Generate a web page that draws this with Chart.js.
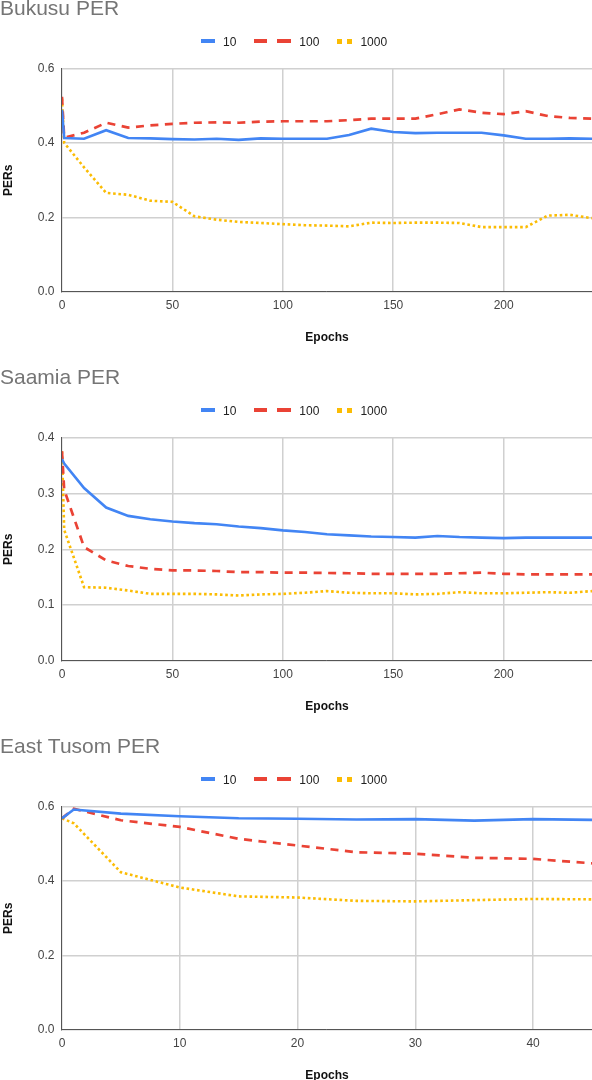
<!DOCTYPE html>
<html>
<head>
<meta charset="utf-8">
<script src="https://cdn.jsdelivr.net/npm/chart.js@4.4.1/dist/chart.umd.min.js"></script>
<style>
  body { margin: 0; background: #fff; font-family: "Liberation Sans", Arial, sans-serif; }
  .block { position: relative; width: 592px; height: 369px; }
  .legend { position: absolute; left: 201px; top: 35px; display: flex; align-items: center;
            font-size: 12px; line-height: 14px; color: #222; }
  .legend .mark { height: 4px; margin-right: 8px; position: relative; top: -1px; }
  .legend .item { display: flex; align-items: center; margin-right: 18px; }
</style>
</head>
<body>
<div class="block"><canvas id="bukusu" width="592" height="369"></canvas><div class="legend" id="lg-bukusu"></div></div>
<div class="block"><canvas id="saamia" width="592" height="369"></canvas><div class="legend" id="lg-saamia"></div></div>
<div class="block"><canvas id="tusom" width="592" height="369"></canvas><div class="legend" id="lg-tusom"></div></div>
<script>
'use strict';

// series names (training set sizes)
const seriesNames = ['10', '100', '1000'];

// Bukusu
const bukusuEpochs = [0, 1, 10, 20, 30, 40, 50, 60, 70, 80, 90, 100, 110, 120, 130, 140, 150, 160, 170, 180, 190, 200, 210, 220, 230, 240];
const bukusu10   = [0.49, 0.414, 0.412, 0.435, 0.414, 0.413, 0.411, 0.410, 0.412, 0.409, 0.413, 0.412, 0.412, 0.412, 0.422, 0.439, 0.430, 0.427, 0.428, 0.428, 0.428, 0.421, 0.412, 0.412, 0.413, 0.412];
const bukusu100  = [0.525, 0.415, 0.428, 0.455, 0.442, 0.448, 0.452, 0.455, 0.456, 0.455, 0.458, 0.459, 0.459, 0.459, 0.462, 0.466, 0.466, 0.466, 0.478, 0.491, 0.482, 0.478, 0.486, 0.473, 0.468, 0.466];
const bukusu1000 = [0.52, 0.401, 0.335, 0.266, 0.261, 0.245, 0.242, 0.203, 0.194, 0.188, 0.185, 0.182, 0.179, 0.178, 0.176, 0.186, 0.185, 0.186, 0.186, 0.185, 0.174, 0.174, 0.174, 0.205, 0.207, 0.198];

// Saamia
const saamiaEpochs = [0, 1, 10, 20, 30, 40, 50, 60, 70, 80, 90, 100, 110, 120, 130, 140, 150, 160, 170, 180, 190, 200, 210, 220, 230, 240];
const saamia10   = [0.362, 0.354, 0.31, 0.275, 0.26, 0.254, 0.25, 0.247, 0.245, 0.241, 0.238, 0.234, 0.231, 0.227, 0.225, 0.223, 0.222, 0.221, 0.224, 0.222, 0.221, 0.22, 0.221, 0.221, 0.221, 0.221];
const saamia100  = [0.376, 0.307, 0.204, 0.18, 0.17, 0.165, 0.162, 0.162, 0.161, 0.159, 0.159, 0.158, 0.158, 0.1575, 0.157, 0.156, 0.156, 0.156, 0.156, 0.157, 0.158, 0.156, 0.155, 0.155, 0.155, 0.155];
const saamia1000 = [0.376, 0.235, 0.132, 0.131, 0.126, 0.12, 0.12, 0.12, 0.119, 0.117, 0.119, 0.12, 0.122, 0.125, 0.122, 0.121, 0.121, 0.119, 0.12, 0.123, 0.121, 0.121, 0.122, 0.123, 0.122, 0.125];

// East Tusom
const tusomEpochs = [0, 1, 5, 10, 15, 20, 25, 30, 35, 40, 45];
const tusom10   = [0.569, 0.593, 0.582, 0.575, 0.5695, 0.568, 0.566, 0.567, 0.563, 0.567, 0.565];
const tusom100  = [0.569, 0.595, 0.564, 0.546, 0.514, 0.496, 0.478, 0.474, 0.463, 0.46, 0.448];
const tusom1000 = [0.569, 0.556, 0.424, 0.383, 0.359, 0.356, 0.347, 0.3455, 0.349, 0.352, 0.351];

const FONT = '"Liberation Sans", Arial, sans-serif';
const lineStyles = [
    { color: '#4285f4', width: 2.6, dash: [], legend: 'linear-gradient(to right, #4285f4 0 14px)', legendWidth: 14 },
    { color: '#ea4335', width: 2.7, dash: [8, 6.5], legend: 'linear-gradient(to right, #ea4335 0 13px, transparent 13px 23px, #ea4335 23px 37px)', legendWidth: 37 },
    { color: '#fbbc04', width: 2.6, dash: [2.6, 2.7], legend: 'linear-gradient(to right, #fbbc04 0 5px, transparent 5px 10px, #fbbc04 10px 15px)', legendWidth: 15 }
];

function toPoints(xs, ys) {
    return xs.map((x, i) => ({ x: x, y: ys[i] }));
}

function buildLegend(id) {
    const el = document.getElementById(id);
    seriesNames.forEach((name, i) => {
        const item = document.createElement('span');
        item.className = 'item';
        const mark = document.createElement('span');
        mark.className = 'mark';
        mark.style.width = lineStyles[i].legendWidth + 'px';
        mark.style.background = lineStyles[i].legend;
        if (i === 2) mark.style.height = '5px';
        const txt = document.createElement('span');
        txt.textContent = name;
        item.appendChild(mark);
        item.appendChild(txt);
        el.appendChild(item);
    });
}

function buildChart(id, title, epochs, series, xMax, xStep, yMax, yStep) {
    const ctx = document.getElementById(id).getContext('2d');
    return new Chart(ctx, {
        type: 'line',
        data: {
            datasets: series.map((s, i) => ({
                label: seriesNames[i],
                data: toPoints(epochs, s),
                borderColor: lineStyles[i].color,
                backgroundColor: lineStyles[i].color,
                borderWidth: lineStyles[i].width,
                borderDash: lineStyles[i].dash,
                pointRadius: 0,
                tension: 0,
                fill: false
            }))
        },
        options: {
            responsive: false,
            animation: false,
            events: [],
            layout: { padding: 0 },
            plugins: {
                legend: { display: false },
                tooltip: { enabled: false },
                title: {
                    display: true,
                    text: title,
                    align: 'start',
                    color: '#757575',
                    font: { family: FONT, size: 21, weight: 'normal', lineHeight: 0.9 },
                    padding: { top: 0, bottom: 50 }
                }
            },
            scales: {
                x: {
                    type: 'linear',
                    min: 0,
                    max: xMax,
                    grid: { color: '#d0d0d0', lineWidth: 1.5, drawTicks: false },
                    border: { color: '#555555', width: 1 },
                    ticks: {
                        stepSize: xStep,
                        includeBounds: false,
                        padding: 7,
                        maxRotation: 0,
                        color: '#444444',
                        font: { family: FONT, size: 12 }
                    },
                    title: {
                        display: true,
                        text: 'Epochs',
                        color: '#111111',
                        font: { family: FONT, size: 12, weight: 'bold' },
                        padding: { top: 10.7, bottom: 23.8 }
                    }
                },
                y: {
                    min: 0,
                    max: yMax,
                    grid: { color: '#d0d0d0', lineWidth: 1.5, drawTicks: false },
                    border: { color: '#555555', width: 1 },
                    ticks: {
                        stepSize: yStep,
                        padding: 7.5,
                        color: '#444444',
                        font: { family: FONT, size: 12 },
                        callback: function(v) { return v.toFixed(1); }
                    },
                    title: {
                        display: true,
                        text: 'PERs',
                        color: '#111111',
                        font: { family: FONT, size: 12, weight: 'bold' },
                        padding: { top: 1, bottom: 14.9 }
                    }
                }
            }
        }
    });
}

buildChart('bukusu', 'Bukusu PER', bukusuEpochs, [bukusu10, bukusu100, bukusu1000], 240, 50, 0.6, 0.2);
buildChart('saamia', 'Saamia PER', saamiaEpochs, [saamia10, saamia100, saamia1000], 240, 50, 0.4, 0.1);
buildChart('tusom', 'East Tusom PER', tusomEpochs, [tusom10, tusom100, tusom1000], 45, 10, 0.6, 0.2);
buildLegend('lg-bukusu');
buildLegend('lg-saamia');
buildLegend('lg-tusom');
</script>
</body>
</html>
